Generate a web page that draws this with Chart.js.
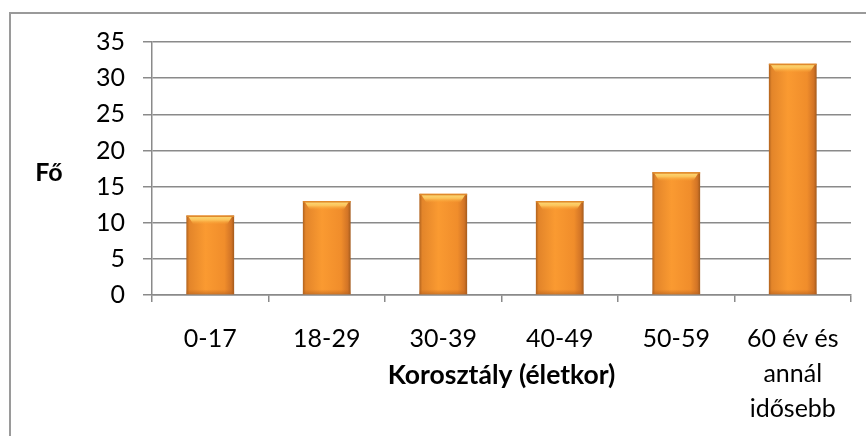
<!DOCTYPE html>
<html>
<head>
<meta charset="utf-8">
<script src="https://cdn.jsdelivr.net/npm/chart.js@4.4.1/dist/chart.umd.min.js"></script>
<style>
  html, body { margin: 0; padding: 0; background: #fff; }
  #wrap { width: 866px; height: 436px; position: relative; }
</style>
</head>
<body>
<div id="wrap"><canvas id="chart" width="866" height="436"></canvas></div>
<script>
// chart data
const categories = ["0-17", "18-29", "30-39", "40-49", "50-59", ["60 év és", "annál", "idősebb"]];
const people = [11, 13, 14, 13, 17, 32];
const yTitle = "Fő";
const xTitle = "Korosztály (életkor)";
const yMax = 35;
const yStep = 5;

const FONT = "Lato, 'Open Sans', sans-serif";
const GRID = "#8a8a8a";

// outer frame + horizontal "Fő" label
const frame = {
  id: "frame",
  beforeDraw(chart) {
    const c = chart.ctx;
    c.save();
    c.strokeStyle = "#9a9a9a";
    c.lineWidth = 2;
    c.strokeRect(10, 13, chart.width + 20, chart.height + 20);
    c.restore();
  },
  afterDraw(chart) {
    const c = chart.ctx;
    const area = chart.chartArea;
    c.save();
    c.font = "bold 25px " + FONT;
    c.fillStyle = "#000";
    c.textAlign = "center";
    c.textBaseline = "middle";
    c.fillText(yTitle, 49, (area.top + area.bottom) / 2 + 4);
    c.restore();
  }
};

// excel-ish shaded bars
const shading = {
  id: "shading",
  beforeDatasetsDraw(chart) {
    const c = chart.ctx;
    chart.getDatasetMeta(0).data.forEach(bar => {
      const x0 = bar.x - bar.width / 2, x1 = bar.x + bar.width / 2;
      const g = c.createLinearGradient(x0, 0, x1, 0);
      g.addColorStop(0, "#b0621e");
      g.addColorStop(0.06, "#e3852a");
      g.addColorStop(0.4, "#fa9a31");
      g.addColorStop(0.8, "#f08d2b");
      g.addColorStop(0.94, "#d27426");
      g.addColorStop(1, "#a35a1c");
      bar.options = Object.assign({}, bar.options, { backgroundColor: g });
    });
  },
  afterDatasetsDraw(chart) {
    const c = chart.ctx;
    chart.getDatasetMeta(0).data.forEach(bar => {
      const x0 = bar.x - bar.width / 2, x1 = bar.x + bar.width / 2;
      const top = bar.y, h = 9, inset = 7;
      c.save();
      const g = c.createLinearGradient(0, top, 0, top + h);
      g.addColorStop(0, "#fbe07e");
      g.addColorStop(0.5, "#fcc35a");
      g.addColorStop(1, "rgba(250,160,50,0)");
      c.fillStyle = g;
      c.beginPath();
      c.moveTo(x0 + 2, top + 1);
      c.lineTo(x1 - 2, top + 1);
      c.lineTo(x1 - inset, top + h);
      c.lineTo(x0 + inset, top + h);
      c.closePath();
      c.fill();
      c.fillStyle = "#e08a2c";
      c.fillRect(x0, top, x1 - x0, 1.5);
      const b = c.createLinearGradient(0, bar.base - 5, 0, bar.base);
      b.addColorStop(0, "rgba(190,100,30,0)");
      b.addColorStop(1, "rgba(180,95,30,0.6)");
      c.fillStyle = b;
      c.fillRect(x0, bar.base - 5, x1 - x0, 5);
      c.restore();
    });
  }
};

new Chart(document.getElementById("chart"), {
  type: "bar",
  data: {
    labels: categories,
    datasets: [{
      data: people,
      backgroundColor: () => "#f7962e",
      borderWidth: 0,
      categoryPercentage: 1,
      barPercentage: 0.41
    }]
  },
  plugins: [frame, shading],
  options: {
    responsive: false,
    animation: false,
    events: [],
    layout: { padding: { left: 78, right: 15, top: 42, bottom: 0 } },
    plugins: { legend: { display: false }, tooltip: { enabled: false } },
    scales: {
      y: {
        min: 0,
        max: yMax,
        ticks: {
          stepSize: yStep,
          padding: 18,
          color: "#000",
          font: { family: FONT, size: 25 }
        },
        grid: { color: GRID, lineWidth: 1.5, tickLength: 9 },
        border: { color: GRID, width: 1.5 }
      },
      x: {
        ticks: {
          padding: 19,
          maxRotation: 0,
          autoSkip: false,
          color: "#000",
          font: { family: FONT, size: 25, lineHeight: "35px" }
        },
        grid: { drawOnChartArea: false, color: GRID, lineWidth: 1.5, tickLength: 7 },
        border: { color: GRID, width: 1.5 },
        title: {
          display: true,
          text: xTitle,
          color: "#000",
          font: { family: FONT, size: 26.5, weight: "bold", lineHeight: 1.1 },
          padding: { top: -84.6, bottom: 46.4 }
        }
      }
    }
  }
});
</script>
</body>
</html>
